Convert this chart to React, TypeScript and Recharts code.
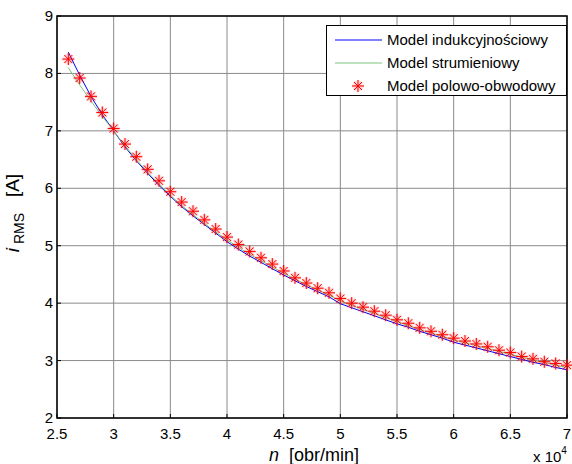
import {
  ComposedChart,
  Line,
  Scatter,
  XAxis,
  YAxis,
  CartesianGrid,
  ReferenceArea,
  Legend,
} from "recharts";

// rotational speed, x 10^4 obr/min
const speed = [
  2.6, 2.7, 2.8, 2.9, 3.0, 3.1, 3.2, 3.3, 3.4, 3.5, 3.6, 3.7, 3.8, 3.9, 4.0,
  4.1, 4.2, 4.3, 4.4, 4.5, 4.6, 4.7, 4.8, 4.9, 5.0, 5.1, 5.2, 5.3, 5.4, 5.5,
  5.6, 5.7, 5.8, 5.9, 6.0, 6.1, 6.2, 6.3, 6.4, 6.5, 6.6, 6.7, 6.8, 6.9, 7.0,
];

// Model indukcyjnościowy
const inductance = [
  8.37, 7.97, 7.6, 7.28, 7.0, 6.72, 6.48, 6.26, 6.05, 5.86, 5.68, 5.52, 5.37,
  5.22, 5.07, 4.94, 4.82, 4.71, 4.6, 4.49, 4.39, 4.29, 4.2, 4.11, 3.99, 3.92,
  3.85, 3.78, 3.71, 3.64, 3.58, 3.51, 3.45, 3.39, 3.32, 3.27, 3.22, 3.17, 3.12,
  3.07, 3.02, 2.97, 2.93, 2.88, 2.84,
];

// Model strumieniowy
const flux = [
  8.1, 7.8, 7.52, 7.25, 7.0, 6.74, 6.5, 6.28, 6.07, 5.88, 5.7, 5.54, 5.39,
  5.24, 5.1, 4.97, 4.85, 4.74, 4.63, 4.52, 4.42, 4.32, 4.23, 4.14, 4.04, 3.96,
  3.89, 3.82, 3.75, 3.68, 3.61, 3.54, 3.48, 3.42, 3.36, 3.31, 3.26, 3.21, 3.16,
  3.11, 3.06, 3.01, 2.97, 2.92, 2.88,
];

// Model polowo-obwodowy
const fieldCircuit = [
  8.25, 7.92, 7.6, 7.32, 7.04, 6.77, 6.55, 6.33, 6.13, 5.94, 5.76, 5.6, 5.45,
  5.29, 5.15, 5.02, 4.9, 4.79, 4.68, 4.56, 4.44, 4.35, 4.26, 4.18, 4.08, 4.0,
  3.93, 3.86, 3.79, 3.71, 3.65, 3.57, 3.51, 3.45, 3.39, 3.34, 3.29, 3.24, 3.18,
  3.14, 3.07, 3.03, 2.98, 2.95, 2.92,
];

const xTicks = [2.5, 3, 3.5, 4, 4.5, 5, 5.5, 6, 6.5, 7];
const yTicks = [2, 3, 4, 5, 6, 7, 8, 9];

const data = speed.map((n, i) => ({
  n,
  ind: inductance[i],
  flux: flux[i],
  fem: fieldCircuit[i],
}));

const FONT = "'Liberation Sans', Arial, sans-serif";

const asteriskPath = (cx: number, cy: number, r: number, d: number) =>
  `M${cx - r},${cy}H${cx + r}M${cx},${cy - r}V${cy + r}` +
  `M${cx - d},${cy - d}L${cx + d},${cy + d}M${cx - d},${cy + d}L${cx + d},${cy - d}`;

const Asterisk = (props: any) => {
  const { cx, cy } = props;
  if (cx == null || cy == null) return null;
  const p = asteriskPath(cx, cy, 6, 4);
  return (
    <g>
      <path d={p} stroke="#ff0000" strokeOpacity={0.18} strokeWidth={3} fill="none" />
      <path d={p} stroke="#ff0000" strokeWidth={1} fill="none" />
    </g>
  );
};

const BottomTick = (props: any) => {
  const { x, y, payload } = props;
  return (
    <g>
      <line x1={x} y1={y} x2={x} y2={y - 4} stroke="#000" />
      <text x={x} y={y + 21} textAnchor="middle" fontSize={15} fontFamily={FONT} fill="#000">
        {payload.value}
      </text>
    </g>
  );
};

const LeftTick = (props: any) => {
  const { x, y, payload } = props;
  return (
    <g>
      <line x1={x} y1={y} x2={x + 4} y2={y} stroke="#000" />
      <text x={x - 4} y={y} dy="0.33em" textAnchor="end" fontSize={15} fontFamily={FONT} fill="#000">
        {payload.value}
      </text>
    </g>
  );
};

const TopTick = (props: any) => {
  const { x, y } = props;
  return <line x1={x} y1={y} x2={x} y2={y + 4} stroke="#000" />;
};

const RightTick = (props: any) => {
  const { x, y } = props;
  return <line x1={x} y1={y} x2={x - 4} y2={y} stroke="#000" />;
};

const XLabel = (props: any) => {
  const { x, y, width } = props.viewBox;
  return (
    <g fontFamily={FONT} fill="#000">
      <text
        x={x + width / 2 + 2}
        y={y + 43}
        textAnchor="middle"
        fontSize={18}
        style={{ whiteSpace: "pre" }}
      >
        <tspan fontStyle="italic">n</tspan>
        <tspan>{"  [obr/min]"}</tspan>
      </text>
      <text x={x + width - 34} y={y + 44} fontSize={15}>
        x 10
        <tspan fontSize={10} dy={-8}>4</tspan>
      </text>
    </g>
  );
};

const YLabel = (props: any) => {
  const { y, height } = props.viewBox;
  const cx = 19;
  const cy = y + height / 2 - 4;
  return (
    <text
      x={cx}
      y={cy}
      transform={`rotate(-90 ${cx} ${cy})`}
      textAnchor="middle"
      fontFamily={FONT}
      fontSize={19}
      fill="#000"
      style={{ whiteSpace: "pre" }}
    >
      <tspan fontStyle="italic">i</tspan>
      <tspan fontSize={14} dy={5}>{" RMS"}</tspan>
      <tspan dy={-5}>{"   [A]"}</tspan>
    </text>
  );
};

const legendRows = [
  { name: "Model indukcyjnościowy", kind: "line", color: "#0000ff" },
  { name: "Model strumieniowy", kind: "line", color: "#7cc47c" },
  { name: "Model polowo-obwodowy", kind: "marker", color: "#ff0000" },
];

const LegendBox = () => (
  <div
    style={{
      width: 241,
      height: 71,
      boxSizing: "border-box",
      border: "1px solid #000",
      background: "#fff",
      fontFamily: FONT,
      fontSize: 15,
      paddingTop: 2,
    }}
  >
    {legendRows.map((row) => (
      <div key={row.name} style={{ display: "flex", alignItems: "center", height: 23 }}>
        <svg width={60} height={20} style={{ flex: "none" }}>
          {row.kind === "line" ? (
            <line x1={8} y1={10} x2={55} y2={10} stroke={row.color} strokeWidth={1} />
          ) : (
            <Asterisk cx={31} cy={10} />
          )}
        </svg>
        <span style={{ color: "#000", whiteSpace: "nowrap" }}>{row.name}</span>
      </div>
    ))}
  </div>
);

export default function App() {
  return (
    <div style={{ position: "absolute", left: 0, top: 0, background: "#fff" }}>
      <ComposedChart
        width={572}
        height={464}
        data={data}
        margin={{ top: 16, right: 5, bottom: 0, left: 0 }}
      >
        <CartesianGrid stroke="#8a8a8a" strokeWidth={1} />
        <XAxis
          dataKey="n"
          type="number"
          domain={[2.5, 7]}
          ticks={xTicks}
          height={46}
          tickSize={0}
          tickMargin={0}
          axisLine={false}
          tick={<BottomTick />}
          label={{ content: <XLabel /> }}
          interval={0}
        />
        <XAxis
          xAxisId="top"
          orientation="top"
          type="number"
          domain={[2.5, 7]}
          ticks={xTicks}
          height={0}
          tickSize={0}
          tickMargin={0}
          axisLine={false}
          tick={<TopTick />}
          interval={0}
        />
        <YAxis
          type="number"
          domain={[2, 9]}
          ticks={yTicks}
          width={57}
          tickSize={0}
          tickMargin={0}
          axisLine={false}
          tick={<LeftTick />}
          label={{ content: <YLabel /> }}
          interval={0}
        />
        <YAxis
          yAxisId="right"
          orientation="right"
          type="number"
          domain={[2, 9]}
          ticks={yTicks}
          width={0}
          tickSize={0}
          tickMargin={0}
          axisLine={false}
          tick={<RightTick />}
          interval={0}
        />
        <ReferenceArea
          x1={2.5}
          x2={7}
          y1={2}
          y2={9}
          fill="none"
          stroke="#000"
          strokeWidth={1.5}
          ifOverflow="visible"
        />
        <Line
          dataKey="ind"
          stroke="#0000ff"
          strokeWidth={1}
          dot={false}
          type="linear"
          isAnimationActive={false}
        />
        <Line
          dataKey="flux"
          stroke="#7cc47c"
          strokeWidth={1}
          dot={false}
          type="linear"
          isAnimationActive={false}
        />
        <Scatter dataKey="fem" shape={<Asterisk />} isAnimationActive={false} />
        <Legend
          layout="vertical"
          align="center"
          verticalAlign="middle"
          content={<LegendBox />}
          wrapperStyle={{ position: "absolute", left: 326, top: 25, width: 241 }}
        />
      </ComposedChart>
    </div>
  );
}
